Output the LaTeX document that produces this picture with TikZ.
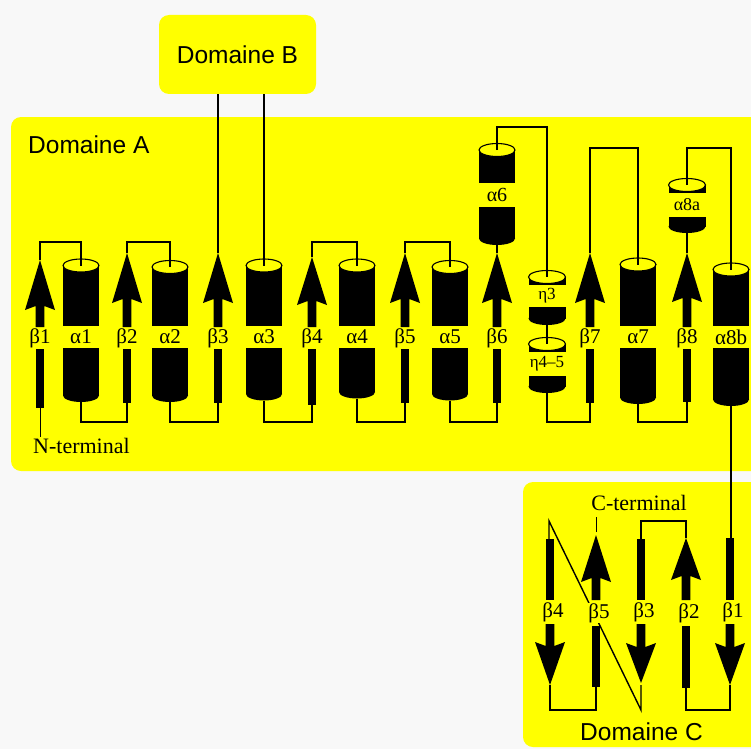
\documentclass[tikz,border=0pt]{standalone}
\usepackage{fontspec}
\setmainfont{Liberation Serif}
\newfontfamily\sansf{Liberation Sans}
\definecolor{dyel}{RGB}{255,255,0}
\definecolor{bgc}{RGB}{248,248,248}
% helix: name, x, rx, ytop(ellipse centre), gap top, gap bottom, ybottom(arc centre), label
\newcommand\helix[8]{%
  \fill[black] ({#2-#3},#4) rectangle ({#2+#3},#5);
  \fill[black] ({#2-#3},#6) rectangle ({#2+#3},#7);
  \fill[black] (#2,#7) ellipse[x radius=#3pt,y radius=6.5pt];
  \draw[line width=1.1pt,fill=dyel] (#2,#4) ellipse[x radius=#3pt,y radius=6.5pt];
  \coordinate (#1-t) at (#2,#4);
  \coordinate (#1-b) at (#2,{#7+6.5});
  \node[lbl] (#1) at (#2,{(#5+#6)/2}) {#8};
}
% up strand: name, x, tip, head base, gap top, gap bottom, bottom, label
\newcommand\upstrand[8]{%
  \fill[black] (#2,#3) -- ({#2+15},#4) -- ({#2+4.3},{#4-4}) -- ({#2+4.3},#5) -- ({#2-4.3},#5) -- ({#2-4.3},{#4-4}) -- ({#2-15},#4) -- cycle;
  \fill[black] ({#2-4.3},#6) rectangle ({#2+4.3},#7);
  \coordinate (#1-t) at (#2,#3);
  \coordinate (#1-b) at (#2,#7);
  \node[lbl] (#1) at (#2,{(#5+#6)/2}) {#8};
}
% down strand: name, x, top, gap top, gap bottom, head base, tip, label
\newcommand\dnstrand[8]{%
  \fill[black] ({#2-4.3},#3) rectangle ({#2+4.3},#4);
  \fill[black] ({#2-4.3},#5) -- ({#2-4.3},{#6+4}) -- ({#2-15},#6) -- (#2,#7) -- ({#2+15},#6) -- ({#2+4.3},{#6+4}) -- ({#2+4.3},#5) -- cycle;
  \coordinate (#1-t) at (#2,#3);
  \coordinate (#1-tip) at (#2,#7);
  \node[lbl] (#1) at (#2,{(#4+#5)/2}) {#8};
}
\begin{document}
\begin{tikzpicture}[x=1pt,y=-1pt,
  lbl/.style={font=\fontsize{21}{21}\selectfont, fill=dyel, inner sep=0.8pt},
  conn/.style={line width=1.4pt, black},
  dombox/.style={fill=dyel, rounded corners=10pt, inner sep=0pt, draw=none},
  domtxt/.style={font=\sansf\fontsize{24.5}{24.5}\selectfont, inner sep=0pt},
  termtxt/.style={font=\fontsize{22}{22}\selectfont, inner sep=0pt}]
\useasboundingbox (0,0) rectangle (751,749);
\fill[bgc] (0,0) rectangle (751,749);
% domain boxes
\node[dombox, minimum width=760pt, minimum height=354pt] (domA) at (391,294) {};
\node[dombox, minimum width=248pt, minimum height=265pt] (domC) at (647,614.5) {};
\node[dombox, domtxt, minimum width=157pt, minimum height=79pt] (domB) at (237.5,54.5) {Domaine B};
\node[domtxt, anchor=base west] (domAl) at (28,153) {Domaine A};
\node[domtxt, anchor=base] (domCl) at (641.5,740) {Domaine C};
% row helpers
\coordinate (toprow) at (0,242);
\coordinate (botrow) at (0,422);
\coordinate (hirow) at (0,127);
\coordinate (midrow) at (0,148);
\coordinate (ctop) at (0,521);
\coordinate (cbot) at (0,710);
% Domain A elements
\upstrand{b1}{40}{260}{310}{327}{349}{408}{β1}
\helix{a1}{81}{18}{265.5}{326}{348}{395.5}{α1}
\upstrand{b2}{127}{253}{303}{327}{349}{403}{β2}
\helix{a2}{170}{18}{267}{326}{348}{395.5}{α2}
\upstrand{b3}{218}{253}{303}{327}{349}{403}{β3}
\helix{a3}{264}{18}{265.5}{326}{348}{394}{α3}
\upstrand{b4}{312}{257}{305}{327}{349}{405}{β4}
\helix{a4}{357}{18}{265.5}{326}{348}{392}{α4}
\upstrand{b5}{405}{253}{303}{327}{349}{403}{β5}
\helix{a5}{450}{18}{267}{326}{348}{394}{α5}
\upstrand{b6}{497}{253}{303}{327}{349}{403}{β6}
\helix{a6}{497}{18}{150}{183}{207}{238.5}{\fontsize{20}{20}\selectfont α6}
\helix{e3}{547}{18.5}{277}{285}{307}{318.5}{\fontsize{17}{17}\selectfont η3}
\helix{e45}{547}{18.5}{344}{352}{376}{386.5}{\fontsize{17}{17}\selectfont η4–5}
\upstrand{b7}{590}{253}{303}{327}{349}{403}{β7}
\helix{a7}{638}{18}{264.5}{326}{348}{397.5}{α7}
\upstrand{b8}{687}{253}{302}{327}{349}{402}{β8}
\helix{a8a}{687}{18.5}{185}{193}{217}{226.5}{\fontsize{18}{18}\selectfont α8a}
\helix{a8b}{731}{18}{269.5}{326}{348}{399.5}{α8b}
% N-terminal
\node[termtxt, anchor=base west] (nterm) at (33,453) {N-terminal};
\draw[line width=0.8pt] (b1-b) -- ([yshift=1pt]b1-b |- nterm.north);
% Domain A connectors
\draw[conn] (b1-t) -- (b1-t |- toprow) -| (a1-t);
\draw[conn] (a1-b) -- (a1-b |- botrow) -| (b2-b);
\draw[conn] (b2-t) -- (b2-t |- toprow) -| (a2-t);
\draw[conn] (a2-b) -- (a2-b |- botrow) -| (b3-b);
\draw[conn] (b3-t) -- (b3-t |- domB.south);
\draw[conn] (domB.south -| a3-t) -- (a3-t);
\draw[conn] (a3-b) -- (a3-b |- botrow) -| (b4-b);
\draw[conn] (b4-t) -- (b4-t |- toprow) -| (a4-t);
\draw[conn] (a4-b) -- (a4-b |- botrow) -| (b5-b);
\draw[conn] (b5-t) -- (b5-t |- toprow) -| (a5-t);
\draw[conn] (a5-b) -- (a5-b |- botrow) -| (b6-b);
\draw[conn] (b6-t) -- (a6-b);
\draw[conn] (a6-t) -- (a6-t |- hirow) -| (e3-t);
\draw[conn] (e3-b) -- (e45-t);
\draw[conn] (e45-b) -- (e45-b |- botrow) -| (b7-b);
\draw[conn] (b7-t) -- (b7-t |- midrow) -| (a7-t);
\draw[conn] (a7-b) -- (a7-b |- botrow) -| (b8-b);
\draw[conn] (b8-t) -- (a8a-b);
\draw[conn] (a8a-t) -- (a8a-t |- midrow) -| (a8b-t);
% Domain C
\coordinate (c4top) at (549,539);
\coordinate (c3bot) at (641,685);
\draw[conn] (c3bot) -- (c3bot |- cbot) -- (c4top |- ctop) -- (c4top);
\begin{scope}[lbl/.append style={xshift=3pt}]
\dnstrand{cb4}{550}{539}{600}{624}{642}{685}{β4}
\upstrand{cb5}{596}{535}{582}{600}{626}{687}{β5}
\dnstrand{cb3}{641}{539}{600}{624}{643}{683}{β3}
\upstrand{cb2}{686}{538}{580}{600}{626}{688}{β2}
\dnstrand{cb1}{730}{538}{600}{624}{643}{685}{β1}
\end{scope}
\draw[conn] (a8b-b) -- (a8b-b |- cb1-t);
\draw[conn] (cb1-tip) -- (cb1-tip |- cbot) -| (cb2-b);
\draw[conn] (cb2-t) -- (cb2-t |- ctop) -| (cb3-t);
\draw[conn] (cb4-tip) -- (cb4-tip |- cbot) -| (cb5-b);
\node[termtxt, anchor=base] (cterm) at (639,510) {C-terminal};
\draw[line width=0.8pt] ([yshift=3pt]cb5-t) -- ([yshift=-7pt]cb5-t |- cterm.base);
\end{tikzpicture}
\end{document}
